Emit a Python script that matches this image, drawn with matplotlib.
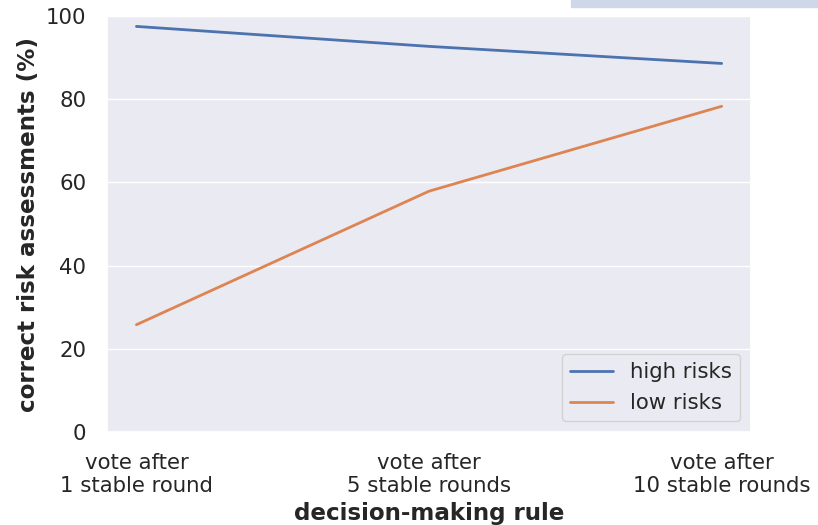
import matplotlib
matplotlib.use("Agg")
import matplotlib.pyplot as plt
import seaborn as sns
from matplotlib.patches import Rectangle

rules = ["vote after\n1 stable round", "vote after\n5 stable rounds", "vote after\n10 stable rounds"]
high_risks = [97.5, 92.7, 88.6]
low_risks = [25.8, 57.9, 78.3]

sns.set_theme(style="darkgrid", font_scale=1.4)
plt.rcParams['font.family'] = ['DejaVu Sans']

fig = plt.figure(figsize=(8.18, 5.25), dpi=100)
ax = fig.add_axes([0.131, 0.177, 0.787, 0.7925])

x = list(range(len(rules)))
ax.plot(x, high_risks, color="#4c72b0", linewidth=2, label="high risks")
ax.plot(x, low_risks, color="#dd8452", linewidth=2, label="low risks")

ax.set_ylim(0, 100)
ax.set_xticks(x)
ax.set_xticklabels(rules)
ax.tick_params(labelsize=15.3, pad=9)
ax.grid(axis="x", visible=False)
ax.set_xlabel("decision-making rule", fontweight="bold", fontsize=16.6)
ax.set_ylabel("correct risk assessments (%)", fontweight="bold", fontsize=16.6)
ax.legend(loc="lower right", fontsize=15.3)

# sliver of a box cut off at the top edge
fig.patches.append(Rectangle((571 / 818, 1 - 7 / 525), 1 - 571 / 818, 7 / 525,
                             transform=fig.transFigure, color="#cfd8e8", zorder=0))

fig.savefig("out.png", dpi=100)
